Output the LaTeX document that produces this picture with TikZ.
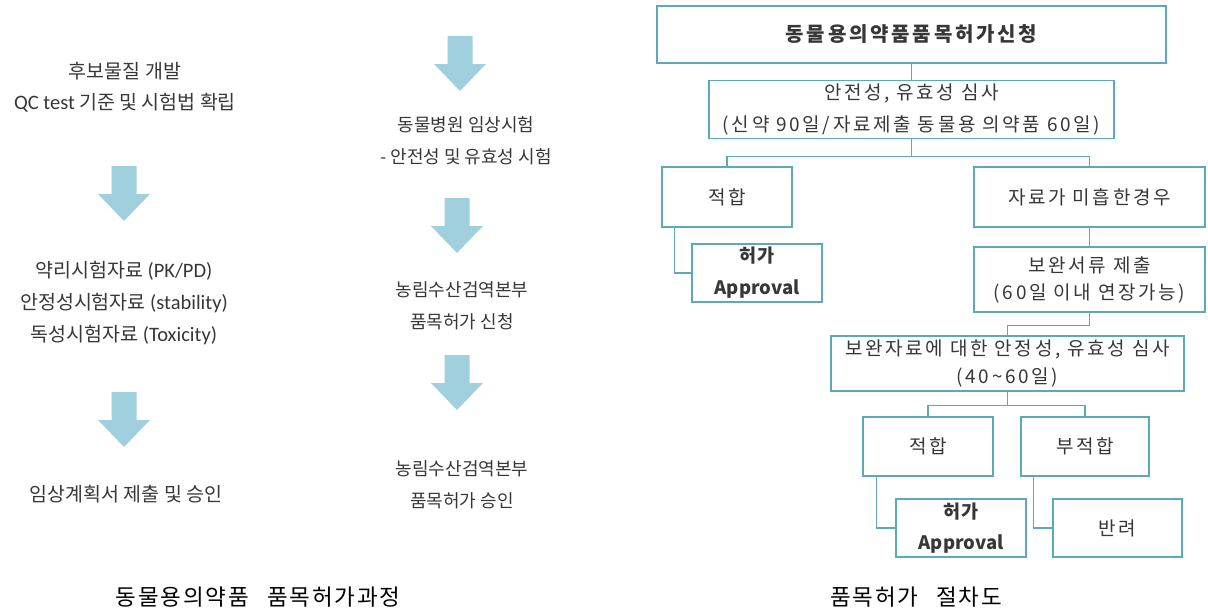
\documentclass[tikz,border=0pt]{standalone}
\usepackage{fontspec}
\setmainfont{Noto Sans CJK KR}
\newfontfamily\lat{Carlito}
\newfontfamily\krw{Noto Sans CJK KR}[LetterSpace=14]
\newfontfamily\capf{Noto Sans CJK KR}[LetterSpace=8]
\usetikzlibrary{calc}
\definecolor{linec}{RGB}{92,170,184}
\definecolor{arrowc}{RGB}{160,207,222}
\definecolor{txt}{RGB}{55,55,55}

\begin{document}
\begin{tikzpicture}[x=1pt,y=-1pt,
  box/.style={draw=linec,line width=1.1pt,fill=white,inner sep=0pt,align=center,text=txt,
    font=\krw\fontsize{19}{30}\selectfont},
  lbl/.style={align=center,text=txt,inner sep=0pt,font=\fontsize{19.5}{31}\selectfont},
  mid/.style={align=center,text=txt,inner sep=0pt,font=\fontsize{18}{32}\selectfont},
  caption/.style={inner sep=0pt,text=black,font=\capf\fontsize{22.5}{26}\selectfont},
  conn/.style={draw=linec,line width=1.1pt},
  downarrow/.pic={\fill[arrowc] (-12.5,0) -- (12.5,0) -- (12.5,28) -- (26,28) -- (0,55) -- (-26,28) -- (-12.5,28) -- cycle;}
]
\useasboundingbox (0,0) rectangle (1208,613);

% development process, left column
\node[lbl] (cand) at (125,87.5) {후보물질 개발\\{\lat\fontsize{20.5}{31}\selectfont QC test} 기준 및 시험법 확립};
\pic at (124,166) {downarrow};
\node[lbl,font=\fontsize{19.5}{32}\selectfont] (data) at (124,303)
  {약리시험자료 {\lat\fontsize{20.5}{32}\selectfont (PK/PD)}\\안정성시험자료 {\lat\fontsize{20.5}{32}\selectfont (stability)}\\독성시험자료 {\lat\fontsize{20.5}{32}\selectfont (Toxicity)}};
\pic at (124,392) {downarrow};
\node[lbl] (plan) at (126,494) {임상계획서 제출 및 승인};

% development process, middle column
\pic at (460,36) {downarrow};
\node[mid] (clin) at (466,141) {동물병원 임상시험\\- 안전성 및 유효성 시험};
\pic at (457,198) {downarrow};
\node[mid] (apply) at (462,306) {농림수산검역본부\\품목허가 신청};
\pic at (457,355) {downarrow};
\node[mid] (grant) at (462,485) {농림수산검역본부\\품목허가 승인};

\node[caption] (capL) at (258,597) {동물용의약품\hspace{0.8em}품목허가과정};

% approval procedure flowchart
\node[box,minimum width=509,minimum height=57,font=\krw\bfseries\fontsize{20}{22}\selectfont] (top) at (911.5,34.5) {동물용의약품품목허가신청};
\node[box,minimum width=405,minimum height=58,font=\krw\fontsize{19}{32}\selectfont] (rev) at (911.5,109.5) {안전성, 유효성 심사\\(신약 90일/자료제출 동물용 의약품 60일)};
\node[box,minimum width=130,minimum height=60] (ok1) at (727,197) {적합};
\node[box,minimum width=231,minimum height=60] (lack) at (1089.5,197) {자료가 미흡한경우};
\node[box,minimum width=130,minimum height=58,font=\bfseries\fontsize{18.5}{32}\selectfont] (app1) at (757,273) {허가\\Approval};
\node[box,minimum width=231,minimum height=65,font=\krw\fontsize{19}{27}\selectfont] (supp) at (1089.5,279.5) {보완서류 제출\\(60일 이내 연장가능)};
\node[box,minimum width=353,minimum height=55,font=\krw\fontsize{19}{28}\selectfont] (rev2) at (1007.5,363.5) {보완자료에 대한 안정성, 유효성 심사\\(40\textasciitilde60일)};
\node[box,minimum width=130,minimum height=59] (ok2) at (928,446.5) {적합};
\node[box,minimum width=128,minimum height=59] (rej) at (1085,446.5) {부적합};
\node[box,minimum width=130,minimum height=58,font=\bfseries\fontsize{18.5}{31}\selectfont] (app2) at (961,528) {허가\\Approval};
\node[box,minimum width=129,minimum height=58] (ret) at (1117.5,528) {반려};

\draw[conn] (top.south) -- (rev.north);
\draw[conn] (rev.south) -- ++(0,17) -| (ok1.north);
\draw[conn] (rev.south) -- ++(0,17) -| (lack.north);
\draw[conn] ($(ok1.south west)+(13,0)$) |- (app1.west);
\draw[conn] (lack.south) -- (supp.north);
\draw[conn] (supp.south) -- ++(0,13) -| (rev2.north);
\draw[conn] (rev2.south) -- ++(0,14) -| (ok2.north);
\draw[conn] (rev2.south) -- ++(0,14) -| (rej.north);
\draw[conn] ($(ok2.south west)+(14,0)$) |- (app2.west);
\draw[conn] ($(rej.south west)+(13,0)$) |- (ret.west);

\node[caption] (capR) at (916,597) {품목허가\hspace{0.8em}절차도};
\end{tikzpicture}
\end{document}
